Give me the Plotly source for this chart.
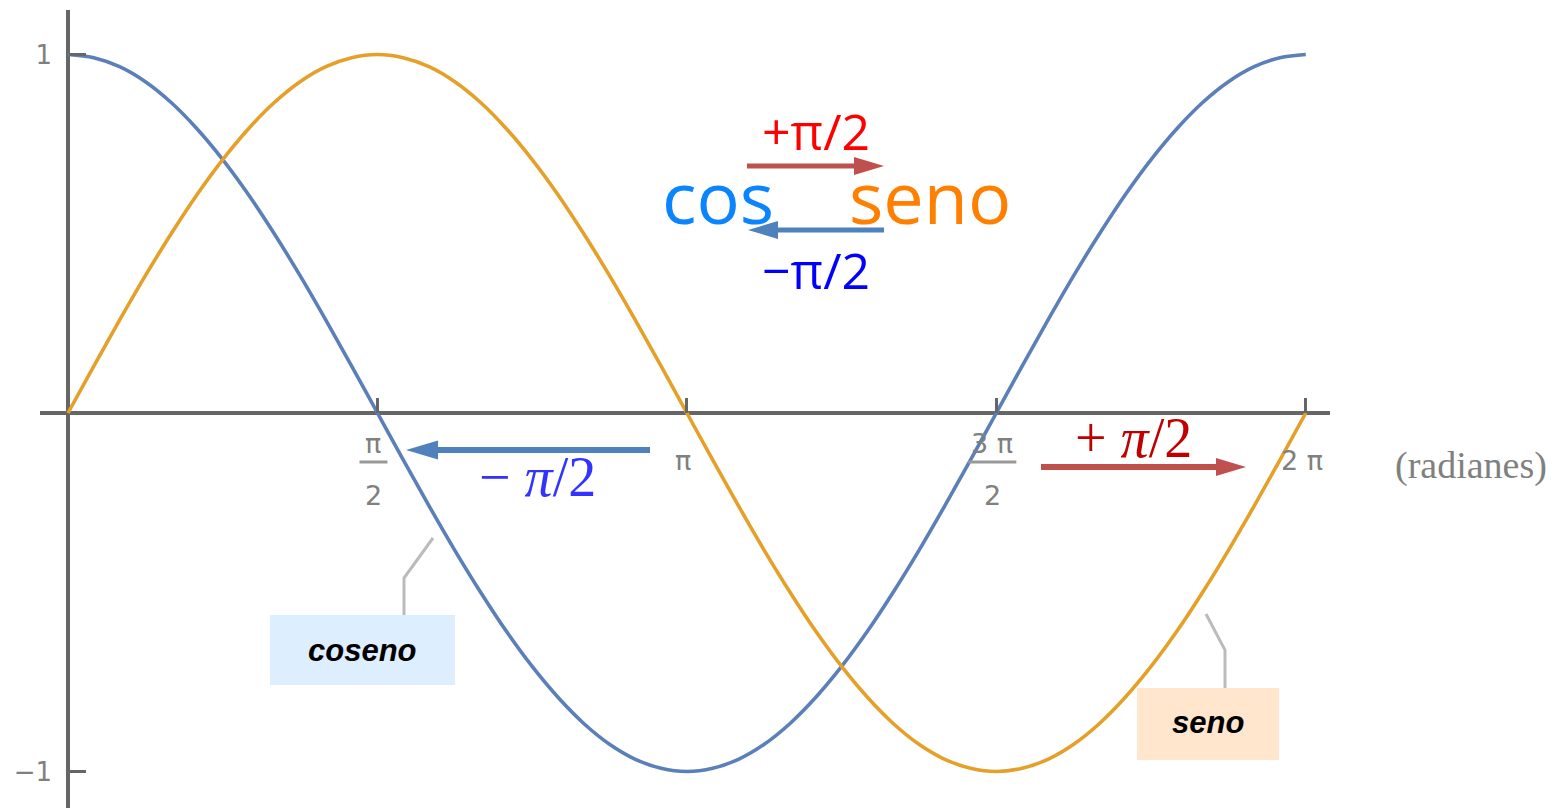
import plotly.graph_objects as go

# ---------------- data ----------------
# angle (radians) sampled every 7.5 degrees from 0 to 2*pi
angle = [0.0, 0.1309, 0.2618, 0.3927, 0.5236, 0.6545, 0.7854, 0.9163, 1.0472, 1.1781,
         1.3090, 1.4399, 1.5708, 1.7017, 1.8326, 1.9635, 2.0944, 2.2253, 2.3562, 2.4871,
         2.6180, 2.7489, 2.8798, 3.0107, 3.1416, 3.2725, 3.4034, 3.5343, 3.6652, 3.7961,
         3.9270, 4.0579, 4.1888, 4.3197, 4.4506, 4.5815, 4.7124, 4.8433, 4.9742, 5.1051,
         5.2360, 5.3669, 5.4978, 5.6287, 5.7596, 5.8905, 6.0214, 6.1523, 6.2832]
seno_vals = [0.0, 0.131, 0.259, 0.383, 0.5, 0.609, 0.707, 0.793, 0.866, 0.924,
             0.966, 0.991, 1.0, 0.991, 0.966, 0.924, 0.866, 0.793, 0.707, 0.609,
             0.5, 0.383, 0.259, 0.131, 0.0, -0.131, -0.259, -0.383, -0.5, -0.609,
             -0.707, -0.793, -0.866, -0.924, -0.966, -0.991, -1.0, -0.991, -0.966, -0.924,
             -0.866, -0.793, -0.707, -0.609, -0.5, -0.383, -0.259, -0.131, 0.0]
coseno_vals = [1.0, 0.991, 0.966, 0.924, 0.866, 0.793, 0.707, 0.609, 0.5, 0.383,
               0.259, 0.131, 0.0, -0.131, -0.259, -0.383, -0.5, -0.609, -0.707, -0.793,
               -0.866, -0.924, -0.966, -0.991, -1.0, -0.991, -0.966, -0.924, -0.866, -0.793,
               -0.707, -0.609, -0.5, -0.383, -0.259, -0.131, 0.0, 0.131, 0.259, 0.383,
               0.5, 0.609, 0.707, 0.793, 0.866, 0.924, 0.966, 0.991, 1.0]

x_tick_vals = [1.5708, 3.1416, 4.7124, 6.2832]
x_tick_num = ["π", "π", "3 π", "2 π"]
x_tick_den = ["2", "", "2", ""]
y_tick_vals = [-1, 1]
y_tick_text = ["−1", "1"]

# ---------------- geometry helpers ----------------
W, H = 1558, 808
XR = [-0.3452, 7.5635]
YR = [-1.1018, 1.1520]


def dx(px):
    return XR[0] + px / W * (XR[1] - XR[0])


def dy(py):
    return YR[1] - py / H * (YR[1] - YR[0])


def ddx(px):
    return px / W * (XR[1] - XR[0])


BLUE = "#5B7FB8"
ORANGE = "#E5A02A"
AX = "#666666"
GRAY_T = "#808080"

fig = go.Figure()
fig.add_trace(go.Scatter(x=angle, y=coseno_vals, mode="lines",
                         line=dict(color=BLUE, width=3.6, shape="spline", smoothing=1.0),
                         name="coseno", hoverinfo="skip"))
fig.add_trace(go.Scatter(x=angle, y=seno_vals, mode="lines",
                         line=dict(color=ORANGE, width=3.6, shape="spline", smoothing=1.0),
                         name="seno", hoverinfo="skip"))

shapes = []
# axis lines
shapes.append(dict(type="line", xref="x", yref="y", x0=dx(40), x1=dx(1330), y0=0, y1=0,
                   line=dict(color=AX, width=4), layer="below"))
shapes.append(dict(type="line", xref="x", yref="y", x0=0, x1=0, y0=dy(10), y1=dy(808),
                   line=dict(color=AX, width=4), layer="below"))


def arrow(tail_px, tip_px, y_px, color, w, head_len, head_h):
    d = 1 if tip_px > tail_px else -1
    base = tip_px - d * head_len
    shapes.append(dict(type="line", xref="x", yref="y",
                       x0=dx(tail_px), x1=dx(base + d * 2), y0=dy(y_px), y1=dy(y_px),
                       line=dict(color=color, width=w)))
    path = "M {} {} L {} {} L {} {} Z".format(dx(tip_px), dy(y_px),
                                             dx(base), dy(y_px - head_h / 2),
                                             dx(base), dy(y_px + head_h / 2))
    shapes.append(dict(type="path", xref="x", yref="y", path=path,
                       fillcolor=color, line=dict(color=color, width=0)))


arrow(747, 884, 166, "#C0504D", 5, 30, 18)
arrow(884, 748, 230, "#4F81BD", 5, 30, 18)
arrow(650, 406, 450, "#4F81BD", 6, 32, 19)
arrow(1041, 1246, 467, "#C0504D", 6, 30, 18)

# callout boxes
shapes.append(dict(type="rect", xref="x", yref="y", x0=dx(270), x1=dx(455), y0=dy(615), y1=dy(685),
                   fillcolor="#DDEEFF", line=dict(width=0), layer="below"))
shapes.append(dict(type="rect", xref="x", yref="y", x0=dx(1137), x1=dx(1279), y0=dy(688), y1=dy(760),
                   fillcolor="#FFE6CC", line=dict(width=0), layer="below"))
# leader lines
shapes.append(dict(type="path", xref="x", yref="y",
                   path="M {} {} L {} {} L {} {}".format(dx(404), dy(615), dx(404), dy(578), dx(433), dy(538)),
                   line=dict(color="#BBBBBB", width=3)))
shapes.append(dict(type="path", xref="x", yref="y",
                   path="M {} {} L {} {} L {} {}".format(dx(1225), dy(688), dx(1225), dy(650), dx(1206), dy(614)),
                   line=dict(color="#BBBBBB", width=3)))

annotations = []


def txt(x, y, text, size, color, family="Open Sans"):
    annotations.append(dict(x=x, y=y, xref="x", yref="y", text=text, showarrow=False,
                            xanchor="center", yanchor="middle",
                            font=dict(size=size, color=color, family=family)))


# x tick labels (fractions)
for v, num, den in zip(x_tick_vals, x_tick_num, x_tick_den):
    xc = v - ddx(4)  # small shift left
    if den:
        half = ddx(14) if num == "π" else ddx(24)
        txt(xc, dy(443), num, 27, GRAY_T, "DejaVu Sans")
        shapes.append(dict(type="line", xref="x", yref="y", x0=xc - half, x1=xc + half,
                           y0=dy(462), y1=dy(462), line=dict(color="#999999", width=3)))
        txt(xc, dy(495), den, 27, GRAY_T, "DejaVu Sans")
    else:
        txt(xc, dy(460), num, 27, GRAY_T, "DejaVu Sans")

txt(dx(1471), dy(465), "(radianes)", 38, GRAY_T, "Liberation Serif")

# big header texts
txt(dx(718), dy(196), "cos", 72, "#0A84FF")
txt(dx(930), dy(196), "seno", 72, "#FF8000")
txt(dx(816), dy(131), "+π/2", 50, "#FF0000")
txt(dx(816), dy(270), "−π/2", 50, "#0000FF")

# lower shift labels
txt(dx(537), dy(477), "− <i>π</i>/2", 56, "#3333FF", "Liberation Serif")
txt(dx(1133), dy(438), "+ <i>π</i>/2", 56, "#C00000", "Liberation Serif")

# callout texts
txt(dx(362), dy(650), "<b><i>coseno</i></b>", 31, "#000000", "Liberation Sans")
txt(dx(1208), dy(722), "<b><i>seno</i></b>", 31, "#000000", "Liberation Sans")

fig.update_layout(
    width=W, height=H,
    margin=dict(l=0, r=0, t=0, b=0),
    paper_bgcolor="white", plot_bgcolor="white",
    showlegend=False,
    shapes=shapes, annotations=annotations,
    xaxis=dict(range=XR, showgrid=False, zeroline=False, showline=False,
               tickvals=x_tick_vals, ticks="inside", ticklen=15, tickwidth=3, tickcolor=AX,
               showticklabels=False, anchor="free", position=(H - 413) / H, automargin=False,
               fixedrange=True),
    yaxis=dict(range=YR, showgrid=False, zeroline=False, showline=False,
               tickvals=y_tick_vals, ticktext=y_tick_text, ticks="inside", ticklen=17,
               tickwidth=3, tickcolor=AX, tickfont=dict(size=26, color=GRAY_T, family="DejaVu Sans"),
               ticklabelstandoff=16, anchor="free", position=68 / W, automargin=False,
               fixedrange=True),
)

fig.write_html("out.html", config={"displayModeBar": False},
               post_script="document.body.style.margin='0';document.body.style.padding='0';")
